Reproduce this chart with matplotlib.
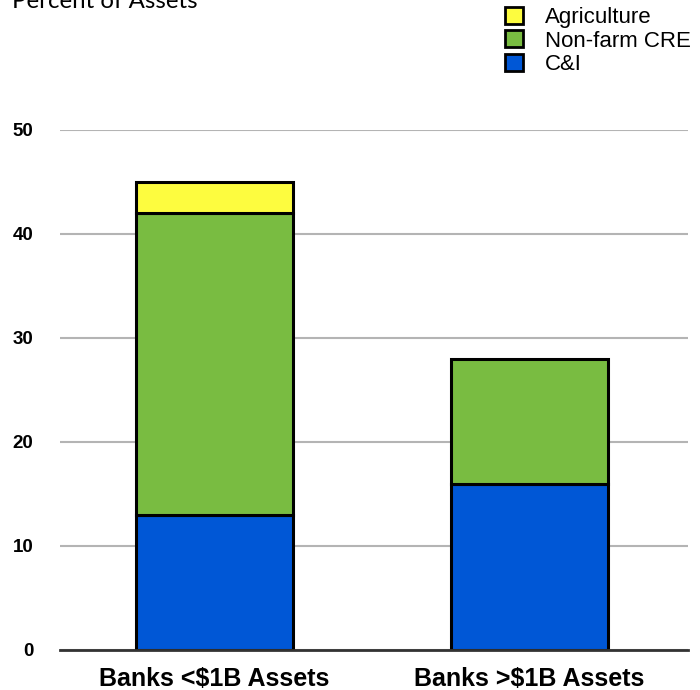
import matplotlib.pyplot as plt
from matplotlib.patches import Patch

categories = ['Banks <$1B Assets', 'Banks >$1B Assets']
ci = [13, 16]
cre = [29, 12]
agri = [3, 0]
yticks = [0, 10, 20, 30, 40, 50]

blue = '#0057d6'
green = '#79bc41'
yellow = '#fdfc3f'

fig = plt.figure(figsize=(7, 6.9), dpi=100)
ax = fig.add_axes([60 / 700, 40 / 690, 628 / 700, 520 / 690])

x = list(range(len(categories)))
bottom2 = [a + b for a, b in zip(ci, cre)]
kw = dict(width=0.5, edgecolor='black', linewidth=2.2, zorder=3)
ax.bar(x, ci, color=blue, **kw)
ax.bar(x, cre, bottom=ci, color=green, **kw)
for i in x:
    if agri[i] > 0:
        ax.bar(i, agri[i], bottom=bottom2[i], color=yellow, **kw)

ax.set_xlim(-0.49, 1.503)
ax.set_ylim(0, 50)
ax.set_yticks(yticks)
ax.set_xticks(x)
ax.set_xticklabels(categories, fontsize=18, fontweight='bold', family='Liberation Sans')
ax.set_yticklabels([str(v) for v in yticks], fontsize=13.5, fontweight='bold', family='Liberation Sans')
ax.tick_params(axis='both', length=0)
ax.tick_params(axis='y', pad=19)
ax.tick_params(axis='x', pad=12)

ax.grid(axis='y', color='#b4b4b4', linewidth=1.5, zorder=0)
for s in ['top', 'right', 'left']:
    ax.spines[s].set_visible(False)
ax.spines['bottom'].set_color('#333333')
ax.spines['bottom'].set_linewidth(2)
ax.spines['bottom'].set_zorder(4)

fig.text(12 / 700, 1 - 8 / 690, 'Percent of Assets', fontsize=17.3, family='Lato',
         va='baseline', ha='left')

handles = [Patch(facecolor=yellow, edgecolor='black', linewidth=2, label='Agriculture'),
           Patch(facecolor=green, edgecolor='black', linewidth=2, label='Non-farm CRE'),
           Patch(facecolor=blue, edgecolor='black', linewidth=2, label='C&I')]
fig.legend(handles=handles, loc='upper left', bbox_to_anchor=(505 / 700, 1 - 7 / 690),
           bbox_transform=fig.transFigure, frameon=False, borderpad=0, borderaxespad=0,
           handlelength=0.8, handleheight=0.8, handletextpad=1.0, labelspacing=0.1,
           prop={'family': 'Liberation Sans', 'size': 16})

fig.savefig('out.png', dpi=100)
